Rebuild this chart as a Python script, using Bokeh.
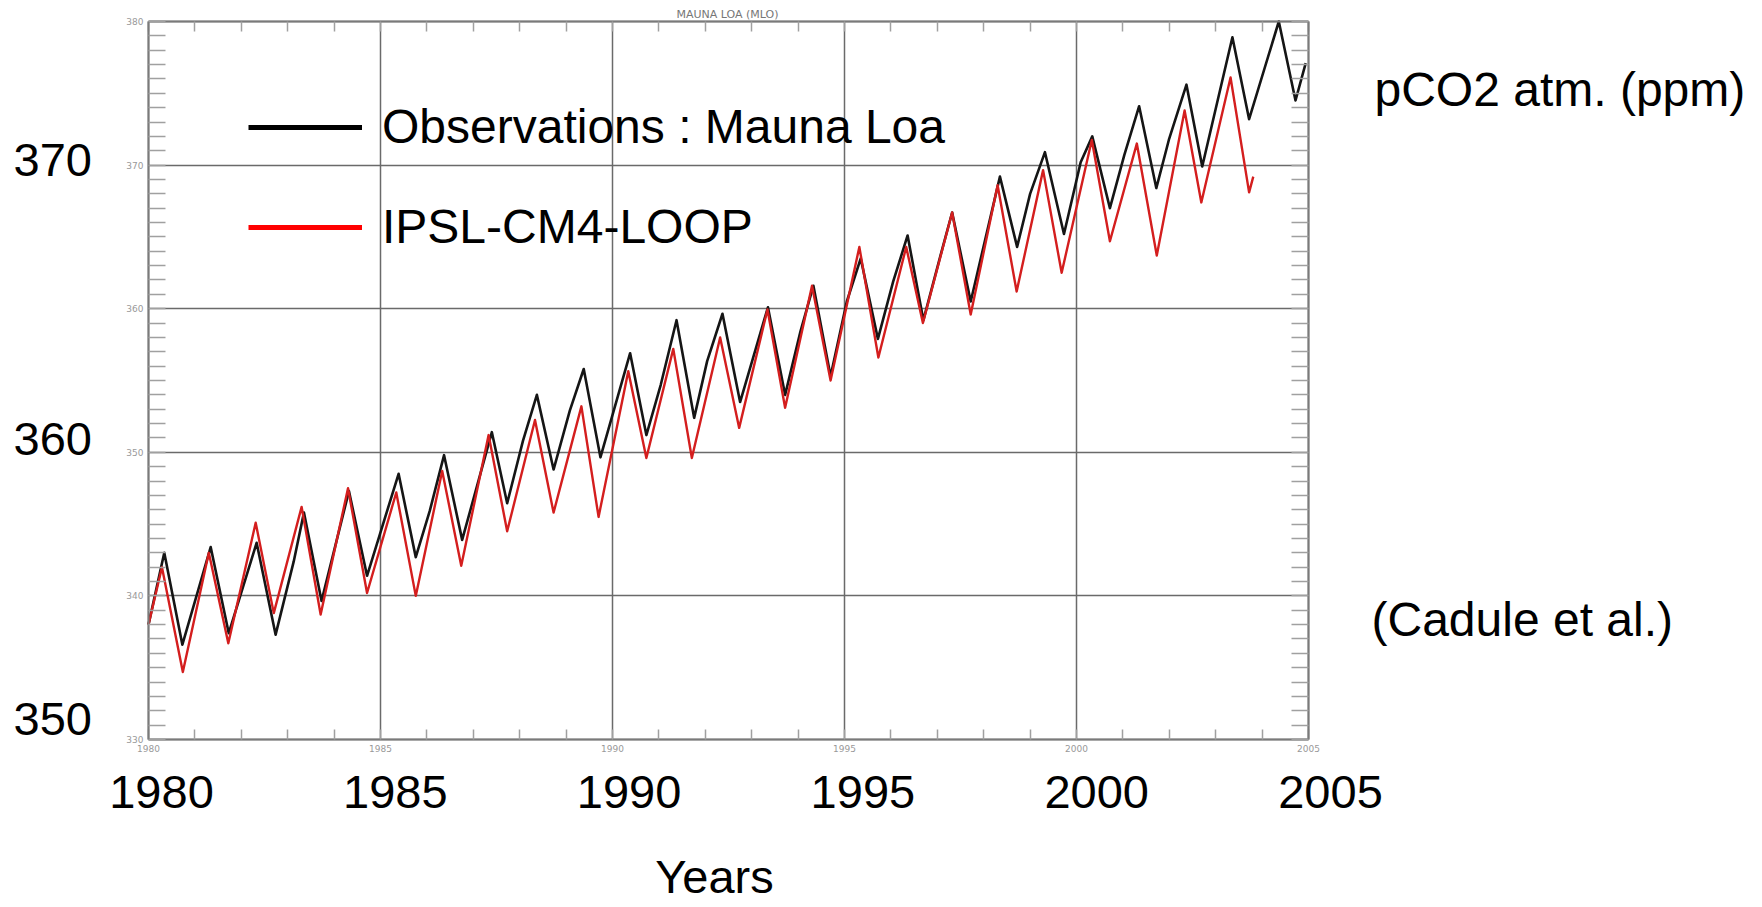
from bokeh.plotting import figure
from bokeh.models import (Range1d, LinearAxis, SingleIntervalTicker, Label,
                          Legend, LegendItem, ColumnDataSource, Grid)
from bokeh.embed import file_html
from bokeh.resources import INLINE

# ---------------- data ----------------
obs_year = [1980.00, 1980.34, 1980.73, 1981.34, 1981.73, 1982.33, 1982.74,
            1983.13, 1983.35, 1983.73, 1984.32, 1984.71, 1985.39, 1985.76,
            1986.06, 1986.37, 1986.76, 1987.40, 1987.73, 1988.07, 1988.37,
            1988.73, 1989.08, 1989.38, 1989.74, 1990.38, 1990.73, 1991.04,
            1991.38, 1991.76, 1992.04, 1992.37, 1992.75, 1993.35, 1993.72,
            1994.05, 1994.33, 1994.70, 1995.05, 1995.35, 1995.72, 1996.05,
            1996.36, 1996.70, 1997.06, 1997.32, 1997.72, 1998.35, 1998.72,
            1999.00, 1999.32, 1999.73, 2000.09, 2000.34, 2000.72, 2001.03,
            2001.35, 2001.72, 2001.99, 2002.37, 2002.71, 2003.36, 2003.72,
            2004.36, 2004.72, 2004.94]
obs_co2 = [338.0, 343.0, 336.6, 343.4, 337.4, 343.7, 337.3,
           342.4, 345.8, 339.65, 347.3, 341.4, 348.5, 342.7,
           345.9, 349.8, 343.9, 351.4, 346.45, 350.8, 354.0,
           348.8, 352.9, 355.8, 349.65, 356.9, 351.2, 354.7,
           359.2, 352.4, 356.35, 359.65, 353.5, 360.1, 354.0,
           358.4, 361.6, 355.3, 360.5, 363.5, 357.9, 361.9,
           365.1, 359.2, 363.6, 366.7, 360.5, 369.2, 364.3,
           368.0, 370.9, 365.2, 370.2, 372.0, 367.0, 370.7,
           374.1, 368.4, 371.75, 375.6, 369.9, 378.9, 373.2,
           380.0, 374.5, 377.1]

mod_year = [1980.00, 1980.29, 1980.74, 1981.30, 1981.72, 1982.31, 1982.70,
            1983.30, 1983.71, 1984.30, 1984.71, 1985.34, 1985.76, 1986.33,
            1986.74, 1987.33, 1987.73, 1988.33, 1988.73, 1989.33, 1989.70,
            1990.34, 1990.73, 1991.31, 1991.71, 1992.32, 1992.73, 1993.34,
            1993.72, 1994.30, 1994.70, 1995.32, 1995.73, 1996.33, 1996.69,
            1997.32, 1997.72, 1998.30, 1998.71, 1999.28, 1999.68, 2000.33,
            2000.72, 2001.30, 2001.73, 2002.33, 2002.69, 2003.32, 2003.72,
            2003.81]
mod_co2 = [338.0, 342.0, 334.7, 343.0, 336.7, 345.1, 338.8,
           346.2, 338.7, 347.5, 340.2, 347.2, 340.0, 348.7,
           342.1, 351.2, 344.5, 352.25, 345.8, 353.2, 345.5,
           355.65, 349.6, 357.2, 349.6, 358.0, 351.7, 359.95,
           353.1, 361.6, 355.0, 364.3, 356.6, 364.3, 359.0,
           366.7, 359.6, 368.6, 361.2, 369.65, 362.5, 371.75,
           364.7, 371.5, 363.7, 373.8, 367.4, 376.1, 368.1,
           369.2]

big_y_labels = ["370", "360", "350"]
big_x_labels = ["1980", "1985", "1990", "1995", "2000", "2005"]
series_names = ["Observations : Mauna Loa", "IPSL-CM4-LOOP"]

# ---------------- layout ----------------
W, H = 1762, 907
FL, FR, FT, FB = 148, 1308, 21, 739          # inner box edges in px
X0, X1, Y0, Y1 = 1980, 2005, 330, 380
KX = (FR - FL) / (X1 - X0)                    # px per year
KY = (FB - FT) / (Y1 - Y0)                    # px per ppm


def px_x(px):
    return X0 + (px - FL) / KX


def px_y(py):
    return Y0 + (FB - py) / KY


# the frame covers the whole canvas; the inner box is drawn by fixed axes
p = figure(width=W, height=H,
           x_range=Range1d(px_x(0), px_x(W)), y_range=Range1d(px_y(H), px_y(0)),
           output_backend="svg", toolbar_location=None,
           x_axis_type=None, y_axis_type=None,
           min_border_left=0, min_border_right=0,
           min_border_top=0, min_border_bottom=0)
p.background_fill_color = "white"
p.border_fill_color = "white"
p.outline_line_color = None

xt = SingleIntervalTicker(interval=5, num_minor_ticks=5)
yt = SingleIntervalTicker(interval=10, num_minor_ticks=10)

p.add_layout(Grid(dimension=0, ticker=xt, bounds=(X0, X1), cross_bounds=(Y0, Y1),
                  grid_line_color="#6a6a6a", grid_line_width=1.5))
p.add_layout(Grid(dimension=1, ticker=yt, bounds=(Y0, Y1), cross_bounds=(X0, X1),
                  grid_line_color="#6a6a6a", grid_line_width=1.5))


def make_axis(ticker, loc, bounds, tick_len, show_labels):
    ax = LinearAxis(ticker=ticker, fixed_location=loc, bounds=bounds)
    ax.axis_line_color = "#7a7a7a"
    ax.axis_line_width = 2
    ax.major_tick_in = 0
    ax.major_tick_out = 0
    ax.minor_tick_in = tick_len
    ax.minor_tick_out = 0
    ax.minor_tick_line_color = "#a0a0a0"
    ax.minor_tick_line_width = 1.5
    if show_labels:
        ax.major_label_text_font = "DejaVu Sans"
        ax.major_label_text_font_size = "9px"
        ax.major_label_text_color = "#999999"
        ax.major_label_standoff = 5
    else:
        ax.major_label_text_font_size = "1px"
        ax.major_label_text_alpha = 0
        ax.major_label_standoff = 0
    return ax


p.add_layout(make_axis(xt, Y0, (X0, X1), 10, True), "below")
p.add_layout(make_axis(yt, X0, (Y0, Y1), 17, True), "left")
p.add_layout(make_axis(xt, Y1, (X0, X1), 10, False), "above")
p.add_layout(make_axis(yt, X1, (Y0, Y1), 17, False), "right")

# ---------------- series ----------------
obs_src = ColumnDataSource(dict(x=obs_year, y=obs_co2))
mod_src = ColumnDataSource(dict(x=mod_year, y=mod_co2))
p.line("x", "y", source=obs_src, line_color="#151515", line_width=2.6,
       line_join="round")
p.line("x", "y", source=mod_src, line_color="#d41e1e", line_width=2.4,
       line_join="round")

# legend samples: zero-length segments at each series' first point
leg_obs = p.segment(x0=obs_year[:1], y0=obs_co2[:1], x1=obs_year[:1],
                    y1=obs_co2[:1], line_color="black", line_width=5,
                    line_cap="butt")
leg_mod = p.segment(x0=mod_year[:1], y0=mod_co2[:1], x1=mod_year[:1],
                    y1=mod_co2[:1], line_color="#ff0000", line_width=5,
                    line_cap="butt")
legend = Legend(items=[LegendItem(label=series_names[0], renderers=[leg_obs]),
                       LegendItem(label=series_names[1], renderers=[leg_mod])],
                location=(248, H - 254), orientation="vertical",
                glyph_width=114, glyph_height=54, label_height=54,
                label_width=10, spacing=45, padding=0, margin=0,
                label_standoff=20, label_text_font="Liberation Sans",
                label_text_font_size="48px", label_text_color="black",
                border_line_color=None, background_fill_alpha=0)
p.add_layout(legend, "center")

# ---------------- texts ----------------
BIG = "Liberation Sans"


def add_text(txt, px, py, size=47, align="left", font=BIG, color="black"):
    # py is the wanted baseline; Bokeh's box sits ~0.4 em lower, so lift it
    p.add_layout(Label(x=px_x(px), y=px_y(py - 0.4 * size), text=txt,
                       text_font=font, text_font_size=f"{size}px",
                       text_align=align, text_baseline="alphabetic",
                       text_color=color))


for i, t in enumerate(big_y_labels):
    add_text(t, 13, 178 + i * 279.5)
for i, t in enumerate(big_x_labels):
    add_text(t, 161 + i * 233.8, 810, align="center")
add_text("Years", 714, 895, align="center")
add_text("pCO2 atm. (ppm)", 1374, 108, size=48)
add_text("(Cadule et al.)", 1371, 638, size=48)
add_text("MAUNA LOA (MLO)", 727, 18, size=11, align="center",
         font="DejaVu Sans", color="#777777")

open("out.html", "w").write(file_html(p, INLINE))
